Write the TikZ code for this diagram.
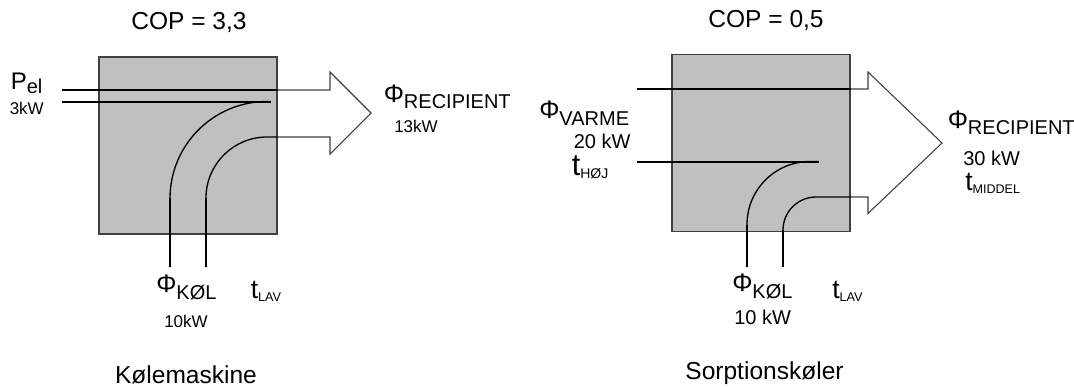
\documentclass[tikz,border=0pt]{standalone}
\usepackage{fontspec}
\setmainfont{Liberation Sans}
\definecolor{Ink}{HTML}{000000}
\definecolor{Plate}{HTML}{C0C0C0}
\definecolor{Rim}{HTML}{404040}
\newcommand{\fsize}[1]{\fontsize{#1}{#1}\selectfont}
\newcommand{\lowsub}[2]{\raisebox{-#1}{#2}}
\newcommand{\bigphi}{{\fsize{19}Φ}}
\tikzset{
  machine/.style={
    draw=Rim, line width=1.1pt, fill=Plate, inner sep=0pt,
    minimum width=133.5pt, minimum height=133pt
  },
  caption/.style={font=\fsize{18.4}, inner sep=0pt, anchor=base},
  flux/.style={font=\fsize{15}, inner sep=0pt, anchor=base west},
  small/.style={font=\fsize{12.75}, inner sep=0pt, anchor=base west},
  feed/.style={line width=1.5pt, draw=Ink},
  pipe/.style={line width=1pt, draw=Ink},
  outline/.style={line width=0.8pt, draw=Rim, line join=miter}
}

\begin{document}
\begin{tikzpicture}[x=0.75pt,y=-0.75pt]
  \fill[white] (0,0) rectangle (1074,387);
  \useasboundingbox (0,0) rectangle (1074,387);

  % Koelemaskine
  \node[caption] (cop1) at (189,29.5) {COP = 3,3};
  \node[machine] (kmask) at (188,145.5) {};
  \draw[outline] (kmask.east |- 0,90) -- (330,90) -- (330,72) -- (371,113)
    -- (330,154) -- (330,137) -- (kmask.east |- 0,137);
  \draw[feed] (62,90) -- (kmask.east |- 0,90);
  \draw[pipe, rounded corners=72.75pt] (170,267) -- (170,101.5) -- (270.7,101.5);
  \draw[pipe, rounded corners=45.75pt] (206,267) -- (206,137) -- (kmask.east |- 0,137);
  \draw[feed] (62,101.5) -- (270.7,101.5);
  \draw[feed] (170,198) -- (170,267);
  \draw[feed] (206,198) -- (206,267);
  \node[flux] (pel) at (10.5,89) {\fsize{18}P\lowsub{3pt}{\fsize{15}el}};
  \node[small] (pelv) at (9.5,114.3) {3kW};
  \node[flux] (rec1) at (383.5,102.7) {\bigphi\lowsub{4.5pt}{RECIPIENT}};
  \node[small] (rec1v) at (394,132.7) {13kW};
  \node[flux] (kol1) at (156,292.7) {\bigphi\lowsub{5pt}{KØL}};
  \node[small] (kol1v) at (164,327.3) {10kW};
  \node[flux] (lav1) at (250.5,298.3) {\fsize{20}t\lowsub{2.5pt}{\fsize{9.5}LAV}};
  \node[caption] (name1) at (186,383) {Kølemaskine};

  % Sorptionskoeler
  \node[caption] (cop2) at (766,27.5) {COP = 0,5};
  \node[machine] (sorp) at (761,143) {};
  \draw[outline] (sorp.east |- 0,89) -- (868,89) -- (868,72) -- (942,143)
    -- (868,213.5) -- (868,197) -- (sorp.east |- 0,197);
  \draw[feed] (637,89) -- (sorp.east |- 0,89);
  \draw[pipe, rounded corners=47.25pt] (747,267) -- (747,161.5) -- (818.6,161.5);
  \draw[pipe, rounded corners=24.75pt] (783,267) -- (783,197) -- (sorp.east |- 0,197);
  \draw[feed] (637,161.5) -- (818.6,161.5);
  \draw[feed] (747,225) -- (747,267);
  \draw[feed] (783,230) -- (783,267);
  \node[flux] (varme) at (539,118.5) {\bigphi\lowsub{5pt}{VARME}};
  \node[flux] (varmev) at (573.5,148.3) {20 kW};
  \node[flux] (hoj) at (571.5,175) {\fsize{23}t\lowsub{2.5pt}{\fsize{10.5}HØJ}};
  \node[flux] (rec2) at (947.5,128.3) {\bigphi\lowsub{5pt}{RECIPIENT}};
  \node[flux] (rec2v) at (963,165) {30 kW};
  \node[flux] (middel) at (965,190.5) {\fsize{20}t\lowsub{2pt}{\fsize{9.4}MIDDEL}};
  \node[flux] (kol2) at (732,291.7) {\bigphi\lowsub{5pt}{KØL}};
  \node[flux] (kol2v) at (734,324) {10 kW};
  \node[flux] (lav2) at (832,298.3) {\fsize{20}t\lowsub{2.5pt}{\fsize{9.5}LAV}};
  \node[caption] (name2) at (764.5,379.5) {Sorptionskøler};
\end{tikzpicture}
\end{document}
